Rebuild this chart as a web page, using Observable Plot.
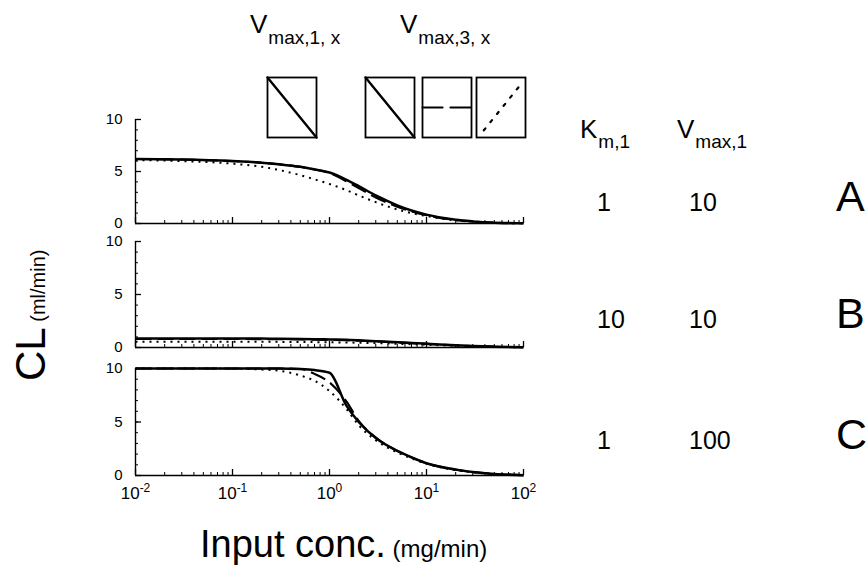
<!DOCTYPE html>
<html><head><meta charset="utf-8">
<script src="https://cdn.jsdelivr.net/npm/d3@7"></script>
<script src="https://cdn.jsdelivr.net/npm/@observablehq/plot@0.6"></script>
<style>
body{margin:0;background:#fff;}
#chart{position:relative;width:868px;height:585px;overflow:hidden;font-family:"Liberation Sans",Arial,Helvetica,sans-serif;background:#fff;}
#chart svg{position:absolute;}
</style></head><body><div id="chart"></div>
<script>
// ---------- data ----------
const conc = [0.01,0.03,0.1,0.2,0.3,0.5,0.7,1,1.5,2,3,5,7,10,20,30,50,100];
const panelNames = ["A","B","C"];
const styles = ["solid","dashed","dotted"];

const A_solid  = [6.2,6.15,6.0,5.85,5.7,5.45,5.2,4.9,4.2,3.6,2.7,1.75,1.25,0.85,0.35,0.2,0.08,0.02];
const A_dashed = [6.2,6.15,6.0,5.85,5.7,5.45,5.2,4.85,4.05,3.4,2.5,1.62,1.17,0.8,0.33,0.19,0.08,0.02];
const A_dotted = [6.1,6.0,5.75,5.45,5.15,4.65,4.25,3.8,3.2,2.7,2.05,1.35,1.0,0.72,0.3,0.18,0.07,0.02];

const B_solid  = [0.85,0.85,0.85,0.84,0.83,0.81,0.79,0.76,0.72,0.68,0.6,0.5,0.43,0.36,0.21,0.14,0.08,0.02];
const B_dashed = [0.8,0.8,0.8,0.79,0.78,0.76,0.74,0.72,0.68,0.64,0.57,0.47,0.41,0.34,0.2,0.13,0.07,0.02];
const B_dotted = [0.55,0.55,0.54,0.54,0.53,0.52,0.51,0.49,0.47,0.45,0.41,0.35,0.31,0.26,0.16,0.11,0.06,0.02];

const C_solid  = [10,10,10,10,10,9.95,9.85,9.6,6.5,5.0,3.5,2.3,1.7,1.15,0.55,0.33,0.15,0.03];
const C_dashed = [10,10,10,10,10,9.95,9.5,8.7,6.9,5.1,3.55,2.3,1.7,1.15,0.55,0.33,0.15,0.03];
const C_dotted = [10,10,9.98,9.9,9.8,9.35,8.85,7.9,6.2,4.7,3.3,2.15,1.6,1.1,0.5,0.3,0.13,0.03];

const series = {
  A: {solid: A_solid, dashed: A_dashed, dotted: A_dotted},
  B: {solid: B_solid, dashed: B_dashed, dotted: B_dotted},
  C: {solid: C_solid, dashed: C_dashed, dotted: C_dotted}
};

const km1 = ["1","10","1"];
const vmax1 = ["10","10","100"];

const xTicks = [0.01,0.1,1,10,100];
const xTickLabels = ["10^-2","10^-1","10^0","10^1","10^2"];
const yTicks = [0,5,10];
const yTickLabels = ["0","5","10"];

// legend icons: line style and direction inside the box
const legendIcons = [
  {style:"solid",  from:[0,1],  to:[1,0]},
  {style:"solid",  from:[0,1],  to:[1,0]},
  {style:"dashed", from:[0,0.5],to:[1,0.5]},
  {style:"dotted", from:[0.15,0.12], to:[0.9,0.88]}
];

// ---------- styling ----------
const FONT = '"Liberation Sans",Arial,Helvetica,sans-serif';
const dash = {solid: null, dashed: "16,6", dotted: "2,5"};
const width = {solid: 2.5, dashed: 2.1, dotted: 2};

// layout of the three panels (plot area top, height)
const layout = [
  {top:119, h:104},
  {top:241, h:106},
  {top:368, h:107}
];

// minor ticks
const yMinor = d3.range(0, 11);
const xMinor = [];
for (const p of [-2,-1,0,1]) for (let m = 2; m <= 9; m++) xMinor.push(m * Math.pow(10, p));

const xLabelMap = new Map(xTicks.map((d,i)=>[d, xTickLabels[i]]));
const yLabelMap = new Map(yTicks.map((d,i)=>[d, yTickLabels[i]]));

const chart = document.getElementById("chart");

panelNames.forEach((name, pi) => {
  const L = layout[pi];
  const isLast = pi === panelNames.length - 1;
  const mt = 10, mb = isLast ? 45 : 8;
  const rows = [];
  for (const s of styles) series[name][s].forEach((v, i) => rows.push({style: s, conc: conc[i], cl: v}));
  const lines = styles.map(s => Plot.line(rows.filter(r => r.style === s), {
    x: "conc", y: "cl", stroke: "#000", strokeWidth: width[s], strokeDasharray: dash[s],
    strokeLinejoin: "round", strokeLinecap: "butt", curve: "monotone-x"
  }));
  const svg = Plot.plot({
    width: 868, height: L.h + mt + mb,
    marginLeft: 135, marginRight: 345, marginTop: mt, marginBottom: mb,
    style: {background: "none", color: "#000", fontFamily: FONT, overflow: "visible"},
    x: {type: "log", domain: [0.01, 100], label: null},
    y: {domain: [0, 10], label: null},
    marks: [
      Plot.ruleX([0.01], {stroke: "#000", strokeWidth: 1.4}),
      Plot.ruleY([0], {stroke: "#000", strokeWidth: 1.4}),
      Plot.axisY(yTicks, {tickSize: 0, tickPadding: 13, fontSize: 15, label: null, tickFormat: d => yLabelMap.get(d)}),
      Plot.axisY(yTicks, {tickSize: 6, dx: 6, label: null, tickFormat: () => "", strokeWidth: 1.3}),
      Plot.axisY(yMinor, {tickSize: 3, dx: 3, label: null, tickFormat: () => ""}),
      Plot.axisX(xTicks, {tickSize: 6, dy: -6, label: null, tickFormat: () => "", strokeWidth: 1.3}),
      Plot.axisX(xMinor, {tickSize: 3, dy: -3, label: null, tickFormat: () => ""}),
      isLast ? Plot.axisX(xTicks, {tickSize: 0, tickPadding: 11, fontSize: 17, label: null, tickFormat: d => xLabelMap.get(d)}) : null,
      ...lines
    ]
  });
  svg.style.left = "0px";
  svg.style.top = (L.top - mt) + "px";
  // superscripts on x tick labels
  d3.select(svg).selectAll('g[aria-label="x-axis tick label"] text').each(function(){
    const s = this.textContent;
    if (!s || !s.includes("^")) return;
    const [b, e] = s.split("^");
    const t = d3.select(this);
    t.text(null);
    t.append("tspan").text(b);
    t.append("tspan").attr("dy", "-0.55em").attr("font-size", "12px").text(e);
  });
  chart.appendChild(svg);
});

// legend icons
const iconPos = [267, 365, 422, 476];
legendIcons.forEach((ic, i) => {
  const pts = [{x: ic.from[0], y: ic.from[1]}, {x: ic.to[0], y: ic.to[1]}];
  const svg = Plot.plot({
    width: 49, height: 60, margin: 0,
    style: {background: "none", overflow: "visible"},
    x: {domain: [0, 1], axis: null},
    y: {domain: [0, 1], axis: null},
    marks: [
      Plot.frame({stroke: "#000", strokeWidth: 1.8}),
      Plot.line(pts, {x: "x", y: "y", stroke: "#000", strokeWidth: ic.style === "solid" ? 2.4 : 2.2,
        strokeDasharray: ic.style === "dashed" ? "20,8" : ic.style === "dotted" ? "2.5,8" : null})
    ]
  });
  svg.style.left = iconPos[i] + "px";
  svg.style.top = "77px";
  chart.appendChild(svg);
});

// text annotations
const ov = d3.create("svg").attr("width", 868).attr("height", 585)
  .style("left", "0px").style("top", "0px").style("font-family", FONT);

function subText(x, y, main, sub, size, subSize, subDy) {
  const t = ov.append("text").attr("x", x).attr("y", y).attr("font-size", size);
  t.append("tspan").text(main);
  t.append("tspan").attr("font-size", subSize).attr("dy", subDy).attr("dx", 1).text(sub);
}
subText(250, 33, "V", "max,1, x", 26, 19, 11);
subText(400, 33, "V", "max,3, x", 26, 19, 11);
subText(580, 138, "K", "m,1", 26, 19, 10);
subText(677, 138, "V", "max,1", 26, 19, 10);

const rowBase = [211, 328, 449];
panelNames.forEach((name, i) => {
  ov.append("text").attr("x", 597).attr("y", rowBase[i]).attr("font-size", 25).text(km1[i]);
  ov.append("text").attr("x", 689).attr("y", rowBase[i]).attr("font-size", 25).text(vmax1[i]);
  ov.append("text").attr("x", 836).attr("y", rowBase[i]).attr("font-size", 43).text(name);
});

// axis titles
const yt = ov.append("text").attr("transform", "translate(45,381) rotate(-90)").attr("font-size", 42);
yt.append("tspan").text("CL");
yt.append("tspan").attr("font-size", 20).text(" (ml/min)");

const xt = ov.append("text").attr("x", 200).attr("y", 557).attr("font-size", 38);
xt.append("tspan").text("Input conc.");
xt.append("tspan").attr("font-size", 24).text(" (mg/min)");

chart.appendChild(ov.node());
</script>
</body></html>
